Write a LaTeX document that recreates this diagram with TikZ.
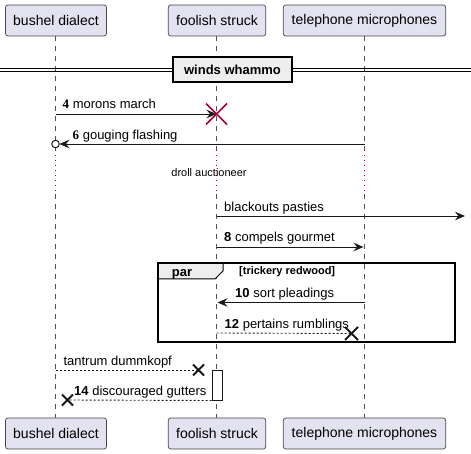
\documentclass[tikz,border=0pt]{standalone}
\usepackage{fontspec}
\setmainfont{Liberation Sans}
\newfontfamily\numserif{Liberation Serif}
\usetikzlibrary{arrows.meta,calc}
\definecolor{partfill}{HTML}{E2E2F0}
\definecolor{lineclr}{HTML}{181818}
\definecolor{grayfill}{HTML}{EEEEEE}
\definecolor{destroyred}{HTML}{A80036}
\begin{document}
\begin{tikzpicture}[x=1pt,y=-1pt,
  participant/.style={draw=lineclr!80, fill=partfill, rounded corners=2.5pt, minimum height=31pt, inner sep=0pt, font=\fontsize{14}{16}\selectfont, line width=0.7pt},
  lifeline/.style={draw=lineclr!75, dash pattern=on 5pt off 5pt, line width=0.7pt},
  delayline/.style={draw=destroyred, dash pattern=on 1pt off 4pt, line width=0.8pt},
  msg/.style={draw=lineclr, line width=0.9pt, -{Stealth[length=10pt,width=8.5pt,inset=3.5pt]}},
  retmsg/.style={draw=lineclr, line width=0.9pt, dash pattern=on 2pt off 2pt},
  lbl/.style={font=\fontsize{13}{15}\selectfont, inner sep=0pt, anchor=base west},
  destroyx/.style={draw=lineclr, line width=2pt},
  framebox/.style={draw=black, line width=1.5pt},
]
\useasboundingbox (0,0) rectangle (471,454);

% participants
\node[participant, minimum width=101pt] (aT) at (56,20.5) {bushel dialect};
\node[participant, minimum width=97.4pt] (bT) at (217,20.5) {foolish struck};
\node[participant, minimum width=162.4pt] (cT) at (364.5,20.5) {telephone microphones};
\node[participant, minimum width=101pt] (aB) at (56,433.5) {bushel dialect};
\node[participant, minimum width=97.4pt] (bB) at (217,433.5) {foolish struck};
\node[participant, minimum width=162.4pt] (cB) at (364.5,433.5) {telephone microphones};

% lifelines
\foreach \p/\x in {a/55.5,b/216.5,c/364.5}{
  \coordinate (\p d1) at (\x,150);
  \coordinate (\p d2) at (\x,194);
  \draw[lifeline] (\x,36) -- (\p d1);
  \draw[delayline] (\p d1) -- (\p d2);
  \draw[lifeline] (\p d2) -- (\x,418);
}

% divider
\coordinate (dl1) at (0,68); \coordinate (dr1) at (471,68);
\coordinate (dl2) at (0,71.5); \coordinate (dr2) at (471,71.5);
\draw[line width=0.9pt] (dl1) -- (dr1);
\draw[line width=0.9pt] (dl2) -- (dr2);
\node[framebox, fill=grayfill, minimum width=119pt, minimum height=25pt, inner sep=0pt, font=\bfseries\fontsize{13}{15}\selectfont] (div) at (232.5,69.5) {winds whammo};

% message 4
\coordinate (m4s) at (55.5,114);
\coordinate (m4e) at (216.5,114);
\draw[msg] (m4s) -- (m4e);
\draw[draw=destroyred, line width=1.6pt] ($(m4e)+(-10.5,-10.5)$) -- ($(m4e)+(10.5,10.5)$)
  ($(m4e)+(-10.5,10.5)$) -- ($(m4e)+(10.5,-10.5)$);
\node[lbl] (l4) at (62.5,108.5) {{\numserif\bfseries 4} morons march};

% message 6
\coordinate (m6s) at (364.5,144);
\coordinate (m6e) at (59.5,144);
\draw[msg] (m6s) -- (m6e);
\node[draw=lineclr, fill=white, line width=1pt, circle, minimum size=7.5pt, inner sep=0pt] (c6) at (55.5,144) {};
\node[lbl] (l6) at (72.5,139.5) {{\numserif\bfseries 6} gouging flashing};

% delay
\node[font=\fontsize{11}{13}\selectfont, inner sep=0pt, anchor=base] (delay) at (209,177) {droll auctioneer};

% blackouts pasties
\coordinate (m7s) at (216.5,216);
\coordinate (m7e) at (465,216);
\draw[msg] (m7s) -- (m7e);
\node[lbl] (l7) at (224,211.5) {blackouts pasties};

% message 8
\coordinate (m8s) at (216.5,247);
\coordinate (m8e) at (363.5,247);
\draw[msg] (m8s) -- (m8e);
\node[lbl] (l8) at (224,241.5) {\textbf{8} compels gourmet};

% par frame
\draw[framebox] (158,263) rectangle (455,342);
\draw[line width=1pt, fill=grayfill] (158,263) -- (223,263) -- (223,271) -- (215,279) -- (158,279) -- cycle;
\draw[framebox] (158,263) rectangle (455,342);
\node[font=\bfseries\fontsize{13}{15}\selectfont, inner sep=0pt, anchor=base] (par) at (182,276.5) {par};
\node[font=\bfseries\fontsize{11}{13}\selectfont, inner sep=0pt, anchor=base west] (parlbl) at (239,275) {[trickery redwood]};

% message 10
\coordinate (m10s) at (364.5,302.5);
\coordinate (m10e) at (217.5,302.5);
\draw[msg] (m10s) -- (m10e);
\node[lbl] (l10) at (235,297.5) {\textbf{10} sort pleadings};

% message 12
\coordinate (m12s) at (216.5,333);
\coordinate (m12e) at (351.5,333.5);
\draw[retmsg] (m12s) -- (m12e);
\draw[destroyx] ($(m12e)+(-6.5,-6.5)$) -- ($(m12e)+(6.5,6.5)$)
  ($(m12e)+(-6.5,6.5)$) -- ($(m12e)+(6.5,-6.5)$);
\node[lbl] (l12) at (224.5,328.3) {\textbf{12} pertains rumblings};

% activation
\node[draw=lineclr, fill=white, line width=1pt, minimum width=10pt, minimum height=30pt, inner sep=0pt] (act) at (217,385) {};

% tantrum
\coordinate (m13s) at (55.5,370);
\coordinate (m13e) at (198.5,370);
\draw[retmsg] (m13s) -- (m13e);
\draw[destroyx] ($(m13e)+(-5.5,-5.5)$) -- ($(m13e)+(5.5,5.5)$)
  ($(m13e)+(-5.5,5.5)$) -- ($(m13e)+(5.5,-5.5)$);
\node[lbl] (l13) at (63.3,365.7) {tantrum dummkopf};

% message 14
\coordinate (m14e) at (67.5,400);
\draw[retmsg] (act.south west) -- (m14e);
\draw[destroyx] ($(m14e)+(-5.5,-5.5)$) -- ($(m14e)+(5.5,5.5)$)
  ($(m14e)+(-5.5,5.5)$) -- ($(m14e)+(5.5,-5.5)$);
\node[lbl] (l14) at (74,395) {\textbf{14} discouraged gutters};
\end{tikzpicture}
\end{document}
